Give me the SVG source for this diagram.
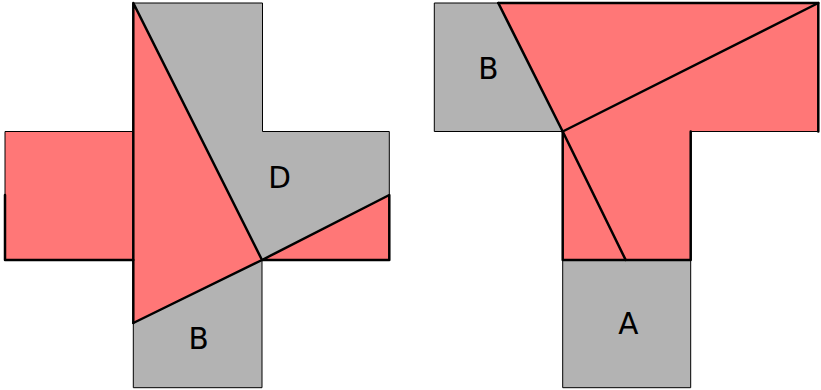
<svg xmlns="http://www.w3.org/2000/svg" width="821" height="390" viewBox="0 0 821 390">
<style>
.red{fill:#ff7777;stroke:#000;stroke-width:1}
.gray{fill:#b3b3b3;stroke:#000;stroke-width:1}
.cut{fill:none;stroke:#000;stroke-width:2.5;stroke-linecap:round;stroke-linejoin:round}
.lbl{font-family:"DejaVu Sans",sans-serif;font-size:29.5px;fill:#000;text-anchor:middle}
</style>
<rect width="821" height="390" fill="#fff"/>
<g id="left-figure">
<g id="left-arm"><polygon class="red" points="5,131.5 133.3,131.5 133.3,260 5,260"/></g>
<g id="left-triangle"><polygon class="red" points="133.3,3 262,260 133.3,323"/></g>
<g id="right-triangle"><polygon class="red" points="262,260 389.3,195 389.3,260"/></g>
<g id="piece-D"><polygon class="gray" points="133.3,3 262.5,3 262.5,131.5 389.3,131.5 389.3,195 262,260"/><text class="lbl" x="279.7" y="187.7">D</text></g>
<g id="piece-B-left"><polygon class="gray" points="133.3,323 262,260 262,387.7 133.3,387.7"/><text class="lbl" x="198.7" y="349.3">B</text></g>
</g>
<g id="right-figure">
<g id="piece-B-right"><polygon class="gray" points="434.3,3 498.3,3 562.7,131.5 434.3,131.5"/><text class="lbl" x="488.3" y="79">B</text></g>
<g id="red-T"><polygon class="red" points="498.3,3 818.3,3 818.3,131.5 690.7,131.5 690.7,260 562.7,260 562.7,131.5"/></g>
<g id="piece-A"><polygon class="gray" points="562.7,260 690.7,260 690.7,387.7 562.7,387.7"/><text class="lbl" x="628.3" y="334.3">A</text></g>
</g>
<g id="connectors">
<polyline class="cut" points="133.3,323 133.3,3 262,260"/>
<polyline class="cut" points="133.3,323 262,260 389.3,195 389.3,260 262,260"/>
<polyline class="cut" points="5,195 5,260 133.3,260"/>
<polyline class="cut" points="498.3,3 818.3,3 818.3,131.5"/>
<line class="cut" x1="498.3" y1="3" x2="562.7" y2="131.5"/>
<line class="cut" x1="562.7" y1="131.5" x2="818.3" y2="3"/>
<line class="cut" x1="562.7" y1="131.5" x2="625.7" y2="260"/>
<polyline class="cut" points="562.7,131.5 562.7,260 690.7,260 690.7,131.5"/>
</g>
</svg>
